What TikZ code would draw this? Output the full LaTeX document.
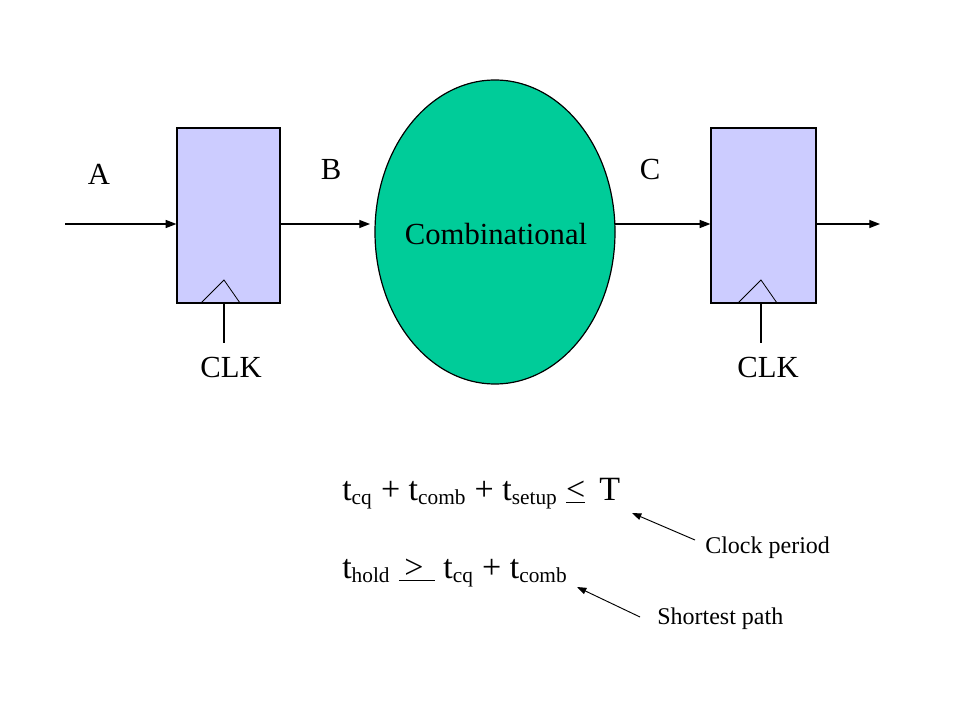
\documentclass[tikz,border=0pt]{standalone}
\usepackage{fontspec}
\setmainfont{Liberation Serif}
\usetikzlibrary{arrows.meta,shapes.geometric}
\newcommand{\sbx}[1]{\textsubscript{\fontsize{16}{17}\selectfont #1}}
\begin{document}
\begin{tikzpicture}[x=0.75pt,y=-0.75pt,
  reg/.style={draw=black,fill=regfill,line width=0.9pt},
  wire/.style={draw=black,line width=0.9pt,-{Triangle[length=8pt,width=6pt]}},
  thin/.style={draw=black,line width=0.6pt},
  lbl/.style={font=\fontsize{23}{26}\selectfont,inner sep=0pt},
  small/.style={font=\fontsize{18}{20}\selectfont,inner sep=0pt},
  eq/.style={font=\fontsize{25.5}{28}\selectfont,inner sep=0pt,anchor=base west},
  note/.style={draw=black,line width=0.7pt,-{Triangle[length=7pt,width=5pt]}}]
\definecolor{regfill}{HTML}{CCCCFF}
\definecolor{combfill}{HTML}{00CC99}
\useasboundingbox (0,0) rectangle (960,720);
% registers
\node[reg,minimum width=103*0.75pt,minimum height=175*0.75pt,inner sep=0pt] (r1) at (228.5,215.5) {};
\node[reg,minimum width=105*0.75pt,minimum height=175*0.75pt,inner sep=0pt] (r2) at (763.5,215.5) {};
% clock triangles
\coordinate (t1l) at (201,303); \coordinate (t1a) at (224,280); \coordinate (t1r) at (240,303);
\coordinate (t2l) at (738,303); \coordinate (t2a) at (761,280); \coordinate (t2r) at (777,303);
\draw[thin] (t1l) -- (t1a) -- (t1r);
\draw[thin] (t2l) -- (t2a) -- (t2r);
\coordinate (c1b) at (224,303); \coordinate (c1e) at (224,343);
\coordinate (c2b) at (761,303); \coordinate (c2e) at (761,343);
\draw[thin,line width=0.9pt] (c1b) -- (c1e);
\draw[thin,line width=0.9pt] (c2b) -- (c2e);
% combinational
\node[draw=black,fill=combfill,ellipse,minimum width=240*0.75pt,minimum height=304*0.75pt,inner sep=0pt,line width=0.9pt] (comb) at (495,232) {};
\node[lbl,anchor=base] (combt) at (496,245) {Combinational};
% wires
\coordinate (ain) at (65,224);
\draw[wire] (ain) -- (r1.west |- ain);
\coordinate (bout) at (280,224); \coordinate (bin) at (370,224);
\draw[wire] (bout) -- (bin);
\coordinate (cout) at (615,224);
\draw[wire] (cout) -- (r2.west |- cout);
\coordinate (dout) at (880,224);
\draw[wire] (r2.east |- dout) -- (dout);
% labels
\node[lbl,anchor=base] (A) at (99,185) {A};
\node[lbl,anchor=base] (B) at (331,180) {B};
\node[lbl,anchor=base] (C) at (650,180) {C};
\node[lbl,anchor=base] (clk1) at (231,377) {CLK};
\node[lbl,anchor=base] (clk2) at (768,377) {CLK};
% equations
\node[eq] (eq1) at (342,500) {t\sbx{cq} + t\sbx{comb} + t\sbx{setup} \underline{<}\, T};
\node[eq] (eq2) at (342,578) {t\sbx{hold} \underline{\,>\,\,} t\sbx{cq} + t\sbx{comb}};
\node[small,anchor=base west] (cp) at (705,553) {Clock period};
\node[small,anchor=base west] (sp) at (657,624) {Shortest path};
\coordinate (cpa) at (695,540); \coordinate (cpb) at (632,513);
\coordinate (spa) at (640,617); \coordinate (spb) at (577,587);
\draw[note] (cpa) -- (cpb);
\draw[note] (spa) -- (spb);
\end{tikzpicture}
\end{document}
